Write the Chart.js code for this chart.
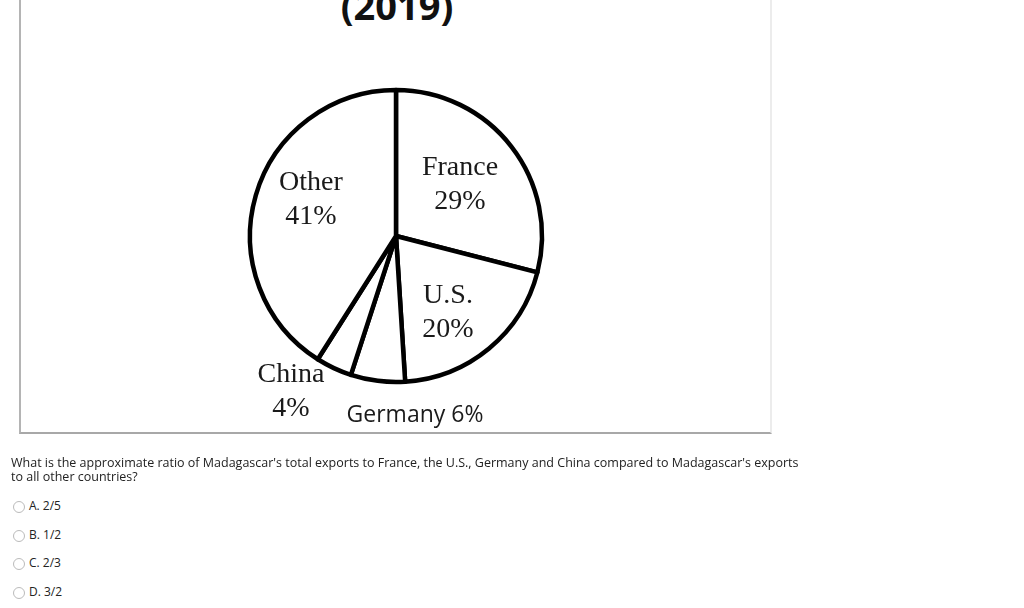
<!DOCTYPE html>
<html>
<head>
<meta charset="utf-8">
<script src="https://cdn.jsdelivr.net/npm/chart.js@4/dist/chart.umd.min.js"></script>
<style>
  html, body { margin: 0; padding: 0; background: #fff; }
  body { width: 1024px; height: 608px; position: relative; overflow: hidden; font-family: "Open Sans", sans-serif; }
  #frame { position: absolute; left: 19px; top: -2px; width: 749px; height: 434px;
           border-left: 2px solid #b4b4b4; border-bottom: 2px solid #a8a8a8; border-right: 2px solid #ececec; }
  #title { position: absolute; left: 297px; width: 200px; top: -21px; text-align: center;
           font: bold 38px "Open Sans", sans-serif; color: #111; }
  #pieBox { position: absolute; left: 176px; top: 16px; width: 440px; height: 440px; }
  #question { position: absolute; left: 11px; top: 456px; width: 800px; font-size: 12.5px; line-height: 14px; color: #222; }
  .opt { position: absolute; left: 13px; font-size: 12px; color: #222; }
  .opt span.r { display: inline-block; width: 12px; height: 12px; border: 1px solid #bbb; border-radius: 50%;
                box-sizing: border-box; vertical-align: middle; margin-right: 4px; }
</style>
</head>
<body>
<div id="frame"></div>
<div id="title">(2019)</div>
<div id="pieBox"><canvas id="pieChart" width="440" height="440"></canvas></div>
<div id="question">What is the approximate ratio of Madagascar's total exports to France, the U.S., Germany and China compared to Madagascar's exports to all other countries?</div>
<div id="options"></div>

<script>
// exports de Madagascar par pays (2019), en %
const countries = ["France", "U.S.", "Germany", "China", "Other"];
const shares = [29, 20, 6, 4, 41];
const answers = ["A. 2/5", "B. 1/2", "C. 2/3", "D. 3/2"];

// placement des étiquettes (décalage par rapport au centre du camembert)
const labelStyle = {
  "France":  { dx: 64,  dy: -51, font: '28px "Liberation Serif"', lines: 2 },
  "U.S.":    { dx: 52,  dy: 77,  font: '28px "Liberation Serif"', lines: 2 },
  "Germany": { dx: 19,  dy: 179, font: '23px "Open Sans"', lines: 1 },
  "China":   { dx: -105, dy: 156, font: '28px "Liberation Serif"', lines: 2 },
  "Other":   { dx: -85, dy: -36, font: '28px "Liberation Serif"', lines: 2 }
};

const sliceLabels = {
  id: 'sliceLabels',
  afterDatasetsDraw(chart) {
    const ctx = chart.ctx;
    const arcs = chart.getDatasetMeta(0).data;
    ctx.save();
    ctx.fillStyle = '#1a1a1a';
    ctx.textAlign = 'center';
    ctx.textBaseline = 'middle';
    arcs.forEach((arc, i) => {
      const name = chart.data.labels[i];
      const st = labelStyle[name];
      const value = chart.data.datasets[0].data[i] + '%';
      const cx = arc.x + st.dx, cy = arc.y + st.dy;
      ctx.font = st.font;
      if (st.lines === 1) {
        ctx.fillText(name + ' ' + value, cx, cy);
      } else {
        ctx.fillText(name, cx, cy - 17);
        ctx.fillText(value, cx, cy + 17);
      }
    });
    ctx.restore();
  }
};

new Chart(document.getElementById("pieChart"), {
  type: 'pie',
  data: {
    labels: countries,
    datasets: [{
      data: shares,
      backgroundColor: '#fff',
      borderColor: '#000',
      borderWidth: 4.5,
      borderJoinStyle: 'round'
    }]
  },
  options: {
    responsive: false,
    animation: false,
    radius: 146,
    layout: { padding: 0 },
    plugins: { legend: { display: false }, tooltip: { enabled: false }, title: { display: false } }
  },
  plugins: [sliceLabels]
});

const optBox = document.getElementById("options");
const optTops = [497, 526, 554, 583];
answers.forEach((a, i) => {
  const d = document.createElement("div");
  d.className = "opt";
  d.style.top = optTops[i] + "px";
  d.innerHTML = '<span class="r"></span>' + a;
  optBox.appendChild(d);
});
</script>
</body>
</html>
